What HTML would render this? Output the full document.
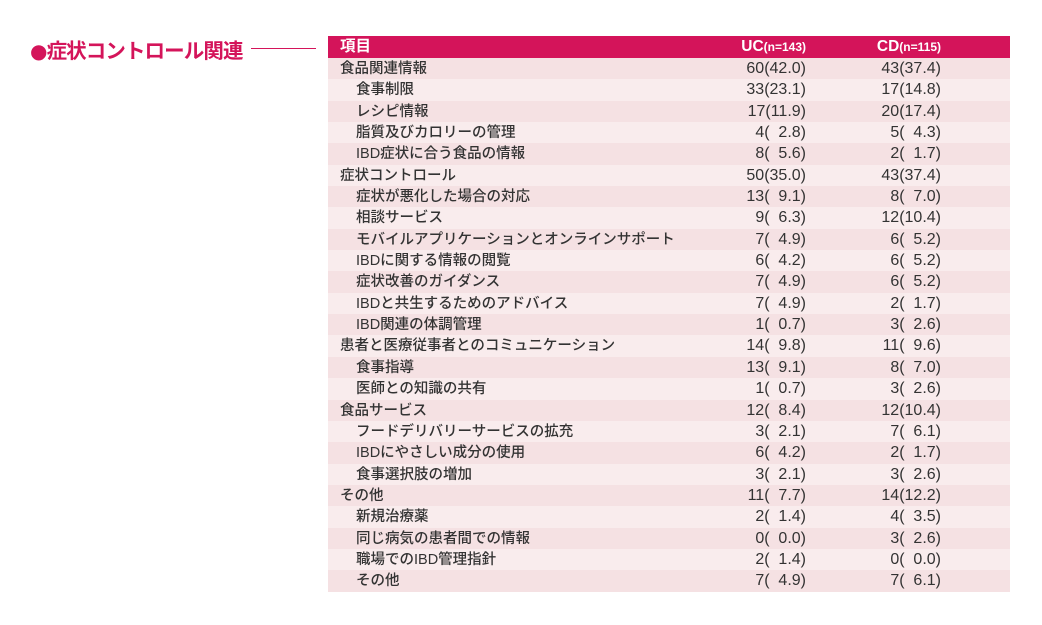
<!DOCTYPE html>
<html><head><meta charset="utf-8"><style>
body{margin:0;width:1042px;height:625px;background:#fff;position:relative;overflow:hidden;font-family:"Liberation Sans","Noto Sans CJK JP",sans-serif;}
.title{position:absolute;left:30px;top:34px;font-size:20.5px;font-weight:bold;color:#d4145a;letter-spacing:-0.9px;white-space:nowrap;}
.title b{font-family:"DejaVu Sans",sans-serif;font-size:20px;}
.line{position:absolute;left:251px;top:48px;width:65px;height:1px;background:#d4145a;}
.tbl{position:absolute;left:328px;top:36px;width:682px;}
.r{position:relative;height:21.35px;font-size:14.5px;color:#333;line-height:22px;white-space:pre;}
.r .l{font-weight:500;}
.r .u,.r .c{font-size:16px;}
.h{height:22px;background:#d4145a;color:#fff;font-weight:bold;line-height:22px;font-size:15.5px;position:relative;}
.a{background:#f5e1e3}.b{background:#f9eced}
.l{position:absolute;left:12px}.i{left:28px}
.u{position:absolute;right:204px}.c{position:absolute;right:69px}
.h small{font-size:12px}
</style></head><body>
<div class="title"><b>●</b>症状コントロール関連</div>
<div class="line"></div>
<div class="tbl">
<div class="h"><span class="l">項目</span><span class="u">UC<small>(n=143)</small></span><span class="c">CD<small>(n=115)</small></span></div>
<div class="r a"><span class="l">食品関連情報</span><span class="u">60(42.0)</span><span class="c">43(37.4)</span></div>
<div class="r b"><span class="l i">食事制限</span><span class="u">33(23.1)</span><span class="c">17(14.8)</span></div>
<div class="r a"><span class="l i">レシピ情報</span><span class="u">17(11.9)</span><span class="c">20(17.4)</span></div>
<div class="r b"><span class="l i">脂質及びカロリーの管理</span><span class="u">4(  2.8)</span><span class="c">5(  4.3)</span></div>
<div class="r a"><span class="l i">IBD症状に合う食品の情報</span><span class="u">8(  5.6)</span><span class="c">2(  1.7)</span></div>
<div class="r b"><span class="l">症状コントロール</span><span class="u">50(35.0)</span><span class="c">43(37.4)</span></div>
<div class="r a"><span class="l i">症状が悪化した場合の対応</span><span class="u">13(  9.1)</span><span class="c">8(  7.0)</span></div>
<div class="r b"><span class="l i">相談サービス</span><span class="u">9(  6.3)</span><span class="c">12(10.4)</span></div>
<div class="r a"><span class="l i">モバイルアプリケーションとオンラインサポート</span><span class="u">7(  4.9)</span><span class="c">6(  5.2)</span></div>
<div class="r b"><span class="l i">IBDに関する情報の閲覧</span><span class="u">6(  4.2)</span><span class="c">6(  5.2)</span></div>
<div class="r a"><span class="l i">症状改善のガイダンス</span><span class="u">7(  4.9)</span><span class="c">6(  5.2)</span></div>
<div class="r b"><span class="l i">IBDと共生するためのアドバイス</span><span class="u">7(  4.9)</span><span class="c">2(  1.7)</span></div>
<div class="r a"><span class="l i">IBD関連の体調管理</span><span class="u">1(  0.7)</span><span class="c">3(  2.6)</span></div>
<div class="r b"><span class="l">患者と医療従事者とのコミュニケーション</span><span class="u">14(  9.8)</span><span class="c">11(  9.6)</span></div>
<div class="r a"><span class="l i">食事指導</span><span class="u">13(  9.1)</span><span class="c">8(  7.0)</span></div>
<div class="r b"><span class="l i">医師との知識の共有</span><span class="u">1(  0.7)</span><span class="c">3(  2.6)</span></div>
<div class="r a"><span class="l">食品サービス</span><span class="u">12(  8.4)</span><span class="c">12(10.4)</span></div>
<div class="r b"><span class="l i">フードデリバリーサービスの拡充</span><span class="u">3(  2.1)</span><span class="c">7(  6.1)</span></div>
<div class="r a"><span class="l i">IBDにやさしい成分の使用</span><span class="u">6(  4.2)</span><span class="c">2(  1.7)</span></div>
<div class="r b"><span class="l i">食事選択肢の増加</span><span class="u">3(  2.1)</span><span class="c">3(  2.6)</span></div>
<div class="r a"><span class="l">その他</span><span class="u">11(  7.7)</span><span class="c">14(12.2)</span></div>
<div class="r b"><span class="l i">新規治療薬</span><span class="u">2(  1.4)</span><span class="c">4(  3.5)</span></div>
<div class="r a"><span class="l i">同じ病気の患者間での情報</span><span class="u">0(  0.0)</span><span class="c">3(  2.6)</span></div>
<div class="r b"><span class="l i">職場でのIBD管理指針</span><span class="u">2(  1.4)</span><span class="c">0(  0.0)</span></div>
<div class="r a"><span class="l i">その他</span><span class="u">7(  4.9)</span><span class="c">7(  6.1)</span></div>
</div>
</body></html>
